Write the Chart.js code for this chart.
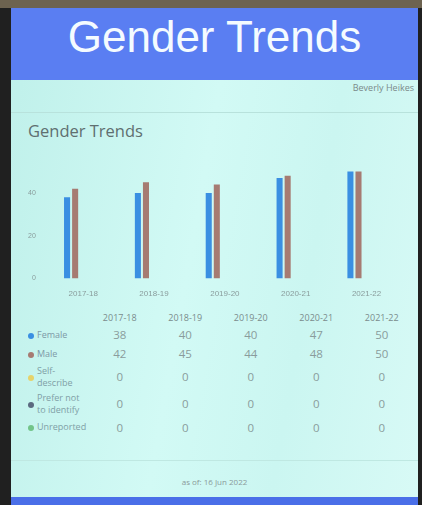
<!DOCTYPE html>
<html>
<head>
<meta charset="utf-8">
<script src="https://cdn.jsdelivr.net/npm/chart.js@4"></script>
<style>
  html, body { margin: 0; padding: 0; }
  body {
    width: 422px; height: 505px; overflow: hidden; position: relative;
    background: #202020; font-family: "Open Sans", "Noto Sans", sans-serif;
  }
  #screen {
    position: absolute; left: 11px; top: 8px; width: 407px; height: 497px;
    background: linear-gradient(100deg, #bff0ea 0%, #d2faf5 45%, #cbf6f1 70%, #d8faf6 100%);
  }
  #topbar { position: absolute; left: 0; top: 0; width: 422px; height: 8px; background: #6d6350; }
  #header {
    position: absolute; left: 0; top: 0; width: 407px; height: 72px; background: #5a7ef2;
    color: #f4fbff; font-family: "Liberation Sans", Arial, sans-serif; font-size: 44px;
    text-align: center; line-height: 58px;
  }
  #author { position: absolute; right: 4px; top: 73px; font-size: 9px; color: #7a8a8a; }
  #rule1 { position: absolute; left: 0; right: 0; top: 104px; height: 1px; background: #b8e2dc; }
  #subtitle { position: absolute; left: 17px; top: 111px; font-size: 16.5px; color: #5f6f70; }
  #chartBox { position: absolute; left: 13px; top: 134px; width: 378px; height: 160px; }
  #tbl { position: absolute; left: 0; top: 302px; border-collapse: collapse; table-layout: fixed; }
  #tbl td, #tbl th { padding: 0; font-weight: normal; text-align: center; color: #8a9c9c; font-size: 11.5px; }
  #tbl th { font-size: 9px; height: 15px; color: #7a8c8c; }
  #tbl td.lab { text-align: left; font-size: 9px; line-height: 12px; }
  .dot { display: inline-block; width: 6px; height: 6px; border-radius: 3px; vertical-align: middle; }
  #rule2 { position: absolute; left: 0; right: 0; top: 452px; height: 1px; background: #bfe8e2; }
  #asof { position: absolute; left: 0; width: 407px; top: 468px; text-align: center; font-size: 8px; color: #8a9a9a; }
  #bottombar { position: absolute; left: 0; top: 489px; width: 407px; height: 8px; background: #4a6fe8; }
</style>
</head>
<body>
<div id="topbar"></div>
<div id="screen">
  <div id="header">Gender Trends</div>
  <div id="author">Beverly Heikes</div>
  <div id="rule1"></div>
  <div id="subtitle">Gender Trends</div>
  <div id="chartBox"><canvas id="chart"></canvas></div>
  <table id="tbl"></table>
  <div id="rule2"></div>
  <div id="asof">as of: 16 Jun 2022</div>
  <div id="bottombar"></div>
</div>
<script>
  const years = ['2017-18', '2018-19', '2019-20', '2020-21', '2021-22'];
  const seriesNames = ['Female', 'Male', 'Self-describe', 'Prefer not to identify', 'Unreported'];
  const female = [38, 40, 40, 47, 50];
  const male = [42, 45, 44, 48, 50];
  const selfDescribe = [0, 0, 0, 0, 0];
  const preferNot = [0, 0, 0, 0, 0];
  const unreported = [0, 0, 0, 0, 0];
  const yTicks = [0, 20, 40];

  const seriesValues = [female, male, selfDescribe, preferNot, unreported];
  const seriesColors = ['#3a8fe2', '#a67b72', '#e6d36a', '#5b6a80', '#72c489'];

  const datasets = seriesNames.map((name, i) => ({
    label: name,
    data: seriesValues[i],
    backgroundColor: seriesColors[i],
    barPercentage: 0.75,
    categoryPercentage: 0.57,
  }));

  new Chart(document.getElementById('chart'), {
    type: 'bar',
    data: { labels: years, datasets },
    options: {
      responsive: true,
      maintainAspectRatio: false,
      animation: false,
      plugins: { legend: { display: false }, tooltip: { enabled: false } },
      scales: {
        x: {
          grid: { display: false },
          border: { display: false },
          ticks: { color: '#8a9c9c', font: { size: 8 }, maxRotation: 0 },
        },
        y: {
          min: 0,
          max: 60,
          grid: { display: false },
          border: { display: false },
          afterBuildTicks: (axis) => { axis.ticks = yTicks.map((v) => ({ value: v })); },
          ticks: { color: '#8a9c9c', font: { size: 7 }, padding: 4 },
        },
      },
    },
  });

  // summary table under the chart
  const tbl = document.getElementById('tbl');
  let html = '<colgroup><col style="width:26px"><col style="width:50px">' +
    years.map(() => '<col style="width:65.5px">').join('') + '</colgroup>';
  html += '<tr><th></th><th></th>' + years.map((y) => `<th>${y}</th>`).join('') + '</tr>';
  const rowHeights = [19, 19, 27, 27, 20];
  seriesNames.forEach((name, i) => {
    const lab = name === 'Self-describe' ? 'Self-<br>describe'
      : name === 'Prefer not to identify' ? 'Prefer not<br>to identify' : name;
    html += `<tr style="height:${rowHeights[i]}px">` +
      `<td style="text-align:right;padding-right:3px"><span class="dot" style="background:${seriesColors[i]}"></span></td>` +
      `<td class="lab" style="color:${i < 2 ? '#7d99a6' : '#7fa0a6'}">${lab}</td>` +
      seriesValues[i].map((v) => `<td>${v}</td>`).join('') + '</tr>';
  });
  tbl.innerHTML = html;
</script>
</body>
</html>
